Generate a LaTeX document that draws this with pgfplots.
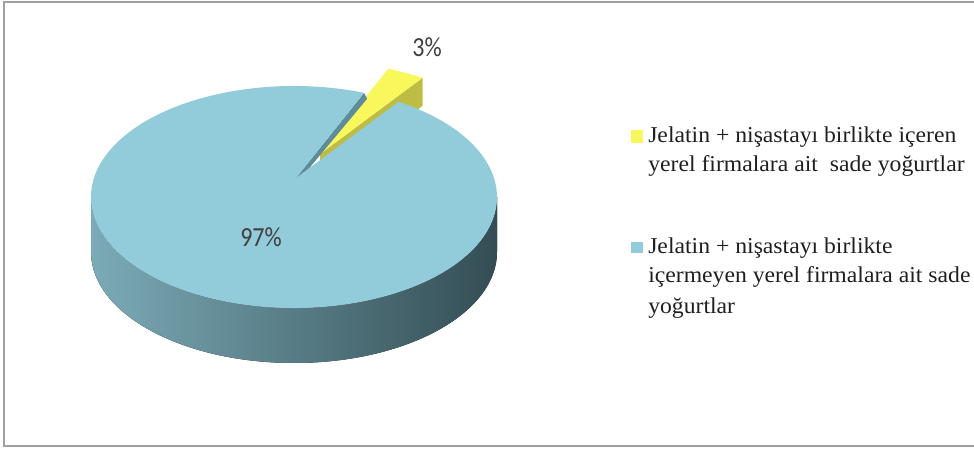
\documentclass[border=0pt]{standalone}
\usepackage{graphicx}
\usepackage{pgfplots}
\usepackage{pgfplotstable}
\pgfplotsset{compat=1.18}
\usepackage{fontspec}
\setmainfont{Liberation Serif}
\newfontfamily\calibri{Carlito}

\definecolor{topblue}{HTML}{92CBDA}
\definecolor{edgeblue}{HTML}{5E8C98}
\definecolor{sideL}{HTML}{7BABB7}
\definecolor{sideM}{HTML}{55818B}
\definecolor{sideR}{HTML}{344D54}
\definecolor{yelltop}{HTML}{F8F85C}
\definecolor{yellside}{HTML}{BDBD45}
\definecolor{labgray}{HTML}{404040}
\definecolor{framegray}{HTML}{A0A0A0}

\pgfplotstableread{
label value
with 3
without 97
}\piedata
\pgfplotstablegetelem{0}{value}\of\piedata \let\vA\pgfplotsretval
\pgfplotstablegetelem{1}{value}\of\piedata \let\vB\pgfplotsretval
\pgfmathsetmacro\tS{59}
\pgfmathsetmacro\tM{\tS+3.6*\vA}
\pgfmathsetmacro\tE{\tM+3.6*\vB}

\begin{document}%
\begin{tikzpicture}
\begin{axis}[x=0.75pt,y=0.75pt,xmin=0,xmax=974,ymin=0,ymax=450,
  hide axis, clip=false]
\coordinate (bbSW) at (axis cs:0,0);
\coordinate (bbNE) at (axis cs:974,450);
% frame
\draw[framegray, line width=1.5pt] (axis cs:974,448) -- (axis cs:4,448) -- (axis cs:4,4) -- (axis cs:974,4);
% yellow exploded slice (radial face, then top)
\fill[yellside] (axis cs:320,296) -- (axis cs:{318+203*cos(\tS)},{277+111*sin(\tS)})
  -- (axis cs:{318+203*cos(\tS)},{277+111*sin(\tS)-28}) -- (axis cs:320,268) -- cycle;
\fill[yelltop] (axis cs:320,296) -- (axis cs:{318+203*cos(\tS)},{277+111*sin(\tS)})
  arc[start angle=\tS, end angle=\tM, x radius=152.25pt, y radius=83.25pt] -- cycle;
% blue slice: radial face strip
\fill[edgeblue] (axis cs:296,272) -- (axis cs:{294+203*cos(\tM)},{253+111*sin(\tM)})
  -- (axis cs:{297+203*cos(\tM)},{247+111*sin(\tM)}) -- (axis cs:296,266) -- cycle;
% blue side wall
\fill[left color=sideL, middle color=sideM, right color=sideR]
  (axis cs:91,253) arc[start angle=180, end angle=360, x radius=152.25pt, y radius=83.25pt]
  -- (axis cs:497,198) arc[start angle=0, end angle=-180, x radius=152.25pt, y radius=83.25pt] -- cycle;
% blue top
\fill[topblue] (axis cs:296,272) -- (axis cs:{294+203*cos(\tM)},{253+111*sin(\tM)})
  arc[start angle=\tM, end angle=\tE, x radius=152.25pt, y radius=83.25pt] -- cycle;
% percentage labels
\node[text=labgray, font=\calibri\fontsize{18}{20}\selectfont] at (axis cs:427,403) {\scalebox{1}[1.15]{3\%}};
\node[text=labgray, font=\calibri\fontsize{18}{20}\selectfont] at (axis cs:261,213) {\scalebox{1}[1.15]{97\%}};
% legend
\fill[yelltop] (axis cs:631,307) rectangle (axis cs:643,320);
\fill[topblue] (axis cs:631,197) rectangle (axis cs:643,208);
\begin{scope}[every node/.style={anchor=base west, inner sep=0pt, text=black!88, font=\fontsize{17}{20}\selectfont}]
\node at (axis cs:648,307) {\scalebox{1.045}[1]{Jelatin + nişastayı birlikte içeren}};
\node at (axis cs:648,278) {\scalebox{1.045}[1]{yerel firmalara ait~ sade yoğurtlar}};
\node at (axis cs:648,196) {\scalebox{1.045}[1]{Jelatin + nişastayı birlikte}};
\node at (axis cs:648,167) {\scalebox{1.045}[1]{içermeyen yerel firmalara ait sade}};
\node at (axis cs:648,137) {\scalebox{1.045}[1]{yoğurtlar}};
\end{scope}
\end{axis}
\pgfresetboundingbox
\path[use as bounding box] (bbSW) rectangle (bbNE);
\end{tikzpicture}%
\end{document}
